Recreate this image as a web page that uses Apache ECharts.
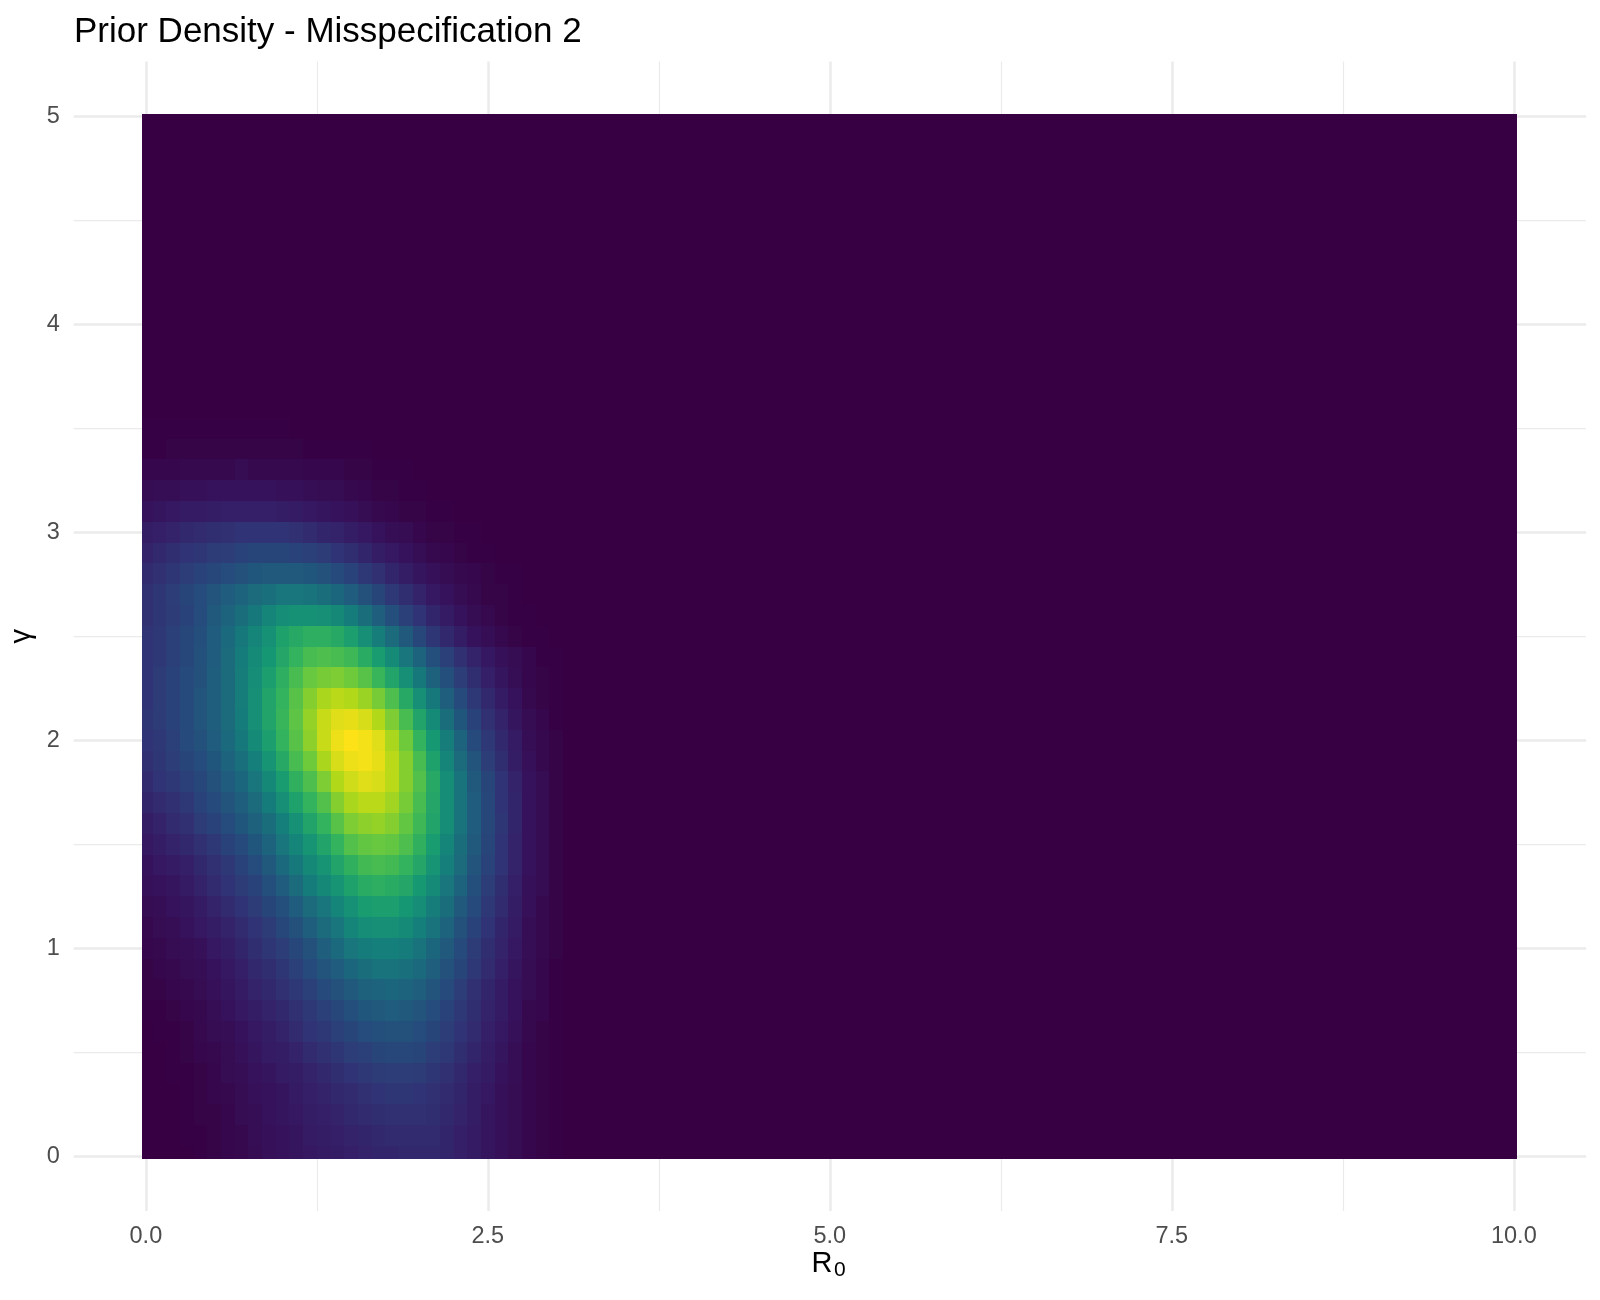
<!DOCTYPE html>
<html>
<head>
<meta charset="utf-8">
<script src="https://cdn.jsdelivr.net/npm/echarts@6.0.0/dist/echarts.min.js"></script>
<style>
  html, body { margin: 0; padding: 0; background: #ffffff; }
  #chart { width: 1600px; height: 1300px; }
</style>
</head>
<body>
<div id="chart"></div>
<script>
// ---------------- data ----------------
const chartTitle = 'Prior Density - Misspecification 2';
const xAxisTitleMain = 'R';
const xAxisTitleSub = '0';
const yAxisTitle = 'γ';
const xTickValues = [0, 2.5, 5, 7.5, 10];
const xMinorValues = [1.25, 3.75, 6.25, 8.75];
const yTickValues = [0, 1, 2, 3, 4, 5];
const yMinorValues = [0.5, 1.5, 2.5, 3.5, 4.5];

// R0 positions of the measured (non-zero) columns
const r0Columns = [0.0,0.1,0.2,0.3,0.4,0.5,0.6,0.7,0.8,0.9,1.0,1.1,1.2,1.3,1.4,1.5,1.6,1.7,1.8,1.9,2.0,2.1,2.2,2.3,2.4,2.5,2.6,2.7,2.8,2.9,3.0];
// gamma positions of the measured rows
const gammaRows = [0.0,0.1,0.2,0.3,0.4,0.5,0.6,0.7,0.8,0.9,1.0,1.1,1.2,1.3,1.4,1.5,1.6,1.7,1.8,1.9,2.0,2.1,2.2,2.3,2.4,2.5,2.6,2.7,2.8,2.9,3.0,3.1,3.2,3.3,3.4,3.5];

// relative prior density (max = 100), one array per gamma row
const dens_g00 = [0,0,0,0,1,2,3,4,5,7,8,9,10,11,12,13,14,15,15,16,16,16,15,13,11,9,7,5,3,2,1];
const dens_g01 = [0,0,0,1,1,2,3,4,6,7,8,9,11,12,13,14,15,16,17,17,17,17,15,13,11,9,7,5,3,2,1];
const dens_g02 = [0,0,0,1,2,2,3,5,6,8,9,10,12,13,14,16,17,18,19,19,19,18,16,14,12,9,7,5,3,2,1];
const dens_g03 = [0,0,0,1,2,3,4,5,7,8,9,11,13,14,16,17,19,20,21,21,20,19,17,15,12,10,7,5,3,2,1];
const dens_g04 = [0,0,1,1,2,3,5,6,8,9,11,12,14,16,18,20,22,23,24,24,23,21,19,16,13,11,8,6,3,2,1];
const dens_g05 = [0,0,1,2,3,4,5,7,9,11,12,14,17,19,21,24,25,27,28,28,27,24,22,18,15,12,9,6,3,2,1];
const dens_g06 = [0,1,1,2,4,5,6,8,10,12,14,17,20,22,25,27,30,31,32,32,30,27,24,20,17,13,10,7,4,2,1];
const dens_g07 = [1,1,2,3,4,6,8,10,12,14,16,19,22,25,28,31,34,35,36,35,33,30,26,22,18,14,11,8,4,3,1];
const dens_g08 = [2,2,3,4,5,7,9,11,14,16,19,22,25,29,32,35,38,39,40,39,37,33,29,24,19,15,11,8,5,3,1];
const dens_g09 = [2,3,4,5,6,8,10,13,16,18,21,25,29,33,36,40,43,45,45,44,41,37,32,27,22,17,13,9,5,3,1];
const dens_g10 = [3,4,5,6,7,10,12,15,18,21,24,28,32,37,41,46,48,50,50,48,45,40,35,29,23,18,14,10,6,4,2];
const dens_g11 = [4,5,6,8,10,12,14,17,20,23,28,32,37,42,46,52,55,56,56,54,50,45,39,32,26,20,15,11,6,4,2];
const dens_g12 = [5,6,8,9,11,14,17,20,23,27,31,36,42,46,52,57,61,62,62,59,55,49,43,35,29,22,17,12,7,4,2];
const dens_g13 = [7,8,9,11,14,17,20,23,26,31,36,42,48,53,58,63,67,68,67,65,60,54,46,39,31,24,18,13,7,5,2];
const dens_g14 = [8,10,11,13,16,19,22,26,30,35,41,47,53,58,64,69,73,74,73,70,65,58,50,42,33,26,20,14,8,5,2];
const dens_g15 = [10,12,14,16,19,22,26,29,34,39,46,52,58,64,70,76,79,80,79,75,69,61,52,43,35,27,20,14,8,5,2];
const dens_g16 = [12,14,17,19,23,26,30,34,38,43,50,57,64,70,77,83,85,86,84,79,72,64,55,45,36,28,21,15,8,5,2];
const dens_g17 = [15,17,19,22,26,29,33,37,42,48,56,63,70,76,84,89,91,91,88,82,74,65,55,45,36,28,20,15,8,5,2];
const dens_g18 = [17,20,22,25,28,32,36,40,46,53,61,69,75,83,90,94,96,95,91,84,76,66,55,45,35,27,20,14,8,5,2];
const dens_g19 = [19,21,24,27,30,34,39,44,50,58,66,74,81,89,95,98,99,97,91,84,74,63,52,42,33,24,18,12,7,4,2];
const dens_g20 = [20,22,25,29,32,36,41,47,54,62,70,77,85,93,98,100,99,96,89,81,70,60,49,39,29,22,16,11,6,4,2];
const dens_g21 = [21,23,26,29,33,37,42,48,56,64,71,78,86,93,96,97,95,90,83,74,64,54,43,34,26,19,14,9,5,3,1];
const dens_g22 = [20,23,26,29,33,37,42,49,56,64,70,77,84,89,91,90,87,82,75,66,56,47,37,29,22,16,11,8,4,2,1];
const dens_g23 = [20,23,26,29,32,37,42,49,55,62,68,74,80,82,83,81,77,71,64,56,47,38,31,24,18,13,9,6,3,2,1];
const dens_g24 = [20,22,25,28,32,36,42,48,54,59,65,70,74,75,74,72,67,61,54,46,39,31,25,19,14,10,7,5,3,1,1];
const dens_g25 = [20,22,25,28,31,36,41,47,52,57,63,66,68,68,66,62,56,49,42,35,28,21,16,12,8,6,4,2,1,1,0];
const dens_g26 = [19,21,23,26,30,35,39,43,47,52,55,57,57,56,53,48,43,37,31,25,20,15,11,8,5,4,2,1,1,0,0];
const dens_g27 = [19,21,24,27,30,33,36,39,42,44,46,46,45,43,40,36,32,27,22,18,14,10,8,5,4,2,2,1,0,0,0];
const dens_g28 = [17,19,21,24,26,28,30,32,34,35,35,35,34,32,29,26,22,19,15,12,9,7,5,4,3,2,1,1,0,0,0];
const dens_g29 = [14,16,18,20,21,23,24,26,27,27,27,26,25,23,20,18,15,12,10,8,6,4,3,2,1,1,0,0,0,0,0];
const dens_g30 = [12,13,14,16,17,18,19,20,20,20,20,19,17,15,14,12,10,8,6,5,3,2,2,1,1,0,0,0,0,0,0];
const dens_g31 = [8,9,10,11,11,12,13,13,13,13,12,11,10,9,8,7,5,4,3,2,2,1,1,0,0,0,0,0,0,0,0];
const dens_g32 = [5,6,6,7,7,8,8,8,8,8,7,7,6,5,5,4,3,2,2,1,1,0,0,0,0,0,0,0,0,0,0];
const dens_g33 = [3,3,3,4,4,4,4,5,4,4,4,4,3,3,3,2,2,1,1,1,0,0,0,0,0,0,0,0,0,0,0];
const dens_g34 = [1,1,2,2,2,2,2,2,2,2,2,2,1,1,1,1,1,0,0,0,0,0,0,0,0,0,0,0,0,0,0];
const dens_g35 = [1,1,1,1,1,1,1,1,1,1,1,0,0,0,0,0,0,0,0,0,0,0,0,0,0,0,0,0,0,0,0];

const densityRows = [dens_g00,dens_g01,dens_g02,dens_g03,dens_g04,dens_g05,dens_g06,dens_g07,dens_g08,dens_g09,
  dens_g10,dens_g11,dens_g12,dens_g13,dens_g14,dens_g15,dens_g16,dens_g17,dens_g18,dens_g19,
  dens_g20,dens_g21,dens_g22,dens_g23,dens_g24,dens_g25,dens_g26,dens_g27,dens_g28,dens_g29,
  dens_g30,dens_g31,dens_g32,dens_g33,dens_g34,dens_g35];

// ---------------- layout / style constants ----------------
const FONT = '"Liberation Sans", Arial, Helvetica, sans-serif';
const CELL = 0.1;                   // grid spacing of the density raster
const R0_LIMIT = [0, 10];
const GAMMA_LIMIT = [0, 5];
const TILE_X = [-0.025, 10.025];    // outer edge of the raster in the reference
const TILE_Y = [-0.0125, 5.0125];
const X_MIN = -0.5275, X_MAX = 10.5275;
const Y_MIN = -0.26375, Y_MAX = 5.26375;
const palette = ['#360042','#361762','#303375','#254C7C','#1C667D','#15807B','#169972','#33B35D','#68C83F','#B1D819','#FDE218'];

// full raster: measured cells, and zero density elsewhere (dark in the picture)
const cells = [];
const nx = Math.round((R0_LIMIT[1] - R0_LIMIT[0]) / CELL);
const ny = Math.round((GAMMA_LIMIT[1] - GAMMA_LIMIT[0]) / CELL);
for (let j = 0; j <= ny; j++) {
  for (let i = 0; i <= nx; i++) {
    let r, g, v = 0;
    if (j < gammaRows.length && i < r0Columns.length) {
      r = r0Columns[i]; g = gammaRows[j]; v = densityRows[j][i];
    } else {
      r = +(R0_LIMIT[0] + i * CELL).toFixed(2);
      g = +(GAMMA_LIMIT[0] + j * CELL).toFixed(2);
    }
    cells.push([r, g, v]);
  }
}

const chart = echarts.init(document.getElementById('chart'), null, { renderer: 'canvas' });

const gridLineMajor = { show: true, lineStyle: { color: '#EBEBEB', width: 2.5 } };
const gridLineMinor = { show: true, lineStyle: { color: '#EBEBEB', width: 1.25 } };

const option = {
  backgroundColor: '#ffffff',
  animation: false,
  title: [
    {
      text: chartTitle,
      left: 69,
      top: 10,
      textStyle: { fontSize: 35, fontWeight: 'normal', color: '#000000', fontFamily: FONT }
    },
    {
      // x axis title: R with subscript 0
      text: xAxisTitleMain,
      left: 811.5, top: 1249, padding: 0,
      textStyle: { fontSize: 29, fontWeight: 'normal', color: '#000000', fontFamily: FONT }
    },
    {
      text: xAxisTitleSub,
      left: 834, top: 1260, padding: 0,
      textStyle: { fontSize: 21, fontWeight: 'normal', color: '#000000', fontFamily: FONT }
    }
  ],
  grid: {
    left: 73.7, top: 61.4, width: 1512.3, height: 1149.7,
    containLabel: false, outerBoundsMode: 'none'
  },
  visualMap: {
    type: 'continuous', show: false, min: 0, max: 100, dimension: 2, seriesIndex: 0,
    inRange: { color: palette }
  },
  xAxis: [
    {
      type: 'value', min: X_MIN, max: X_MAX, position: 'bottom',
      axisLine: { show: false },
      axisTick: { show: false, customValues: xTickValues },
      axisLabel: {
        customValues: xTickValues, formatter: v => Number(v).toFixed(1),
        fontSize: 23.5, color: '#4D4D4D', fontFamily: FONT, margin: 13
      },
      splitLine: gridLineMajor
    },
    {
      type: 'value', min: X_MIN, max: X_MAX, position: 'top',
      axisLine: { show: false },
      axisTick: { show: false, customValues: xMinorValues },
      axisLabel: { show: false },
      splitLine: gridLineMinor
    }
  ],
  yAxis: [
    {
      type: 'value', min: Y_MIN, max: Y_MAX, position: 'left',
      axisLine: { show: false },
      axisTick: { show: false, customValues: yTickValues },
      axisLabel: {
        customValues: yTickValues, formatter: v => String(Math.round(v)),
        fontSize: 23.5, color: '#4D4D4D', fontFamily: FONT, margin: 14
      },
      splitLine: gridLineMajor,
      name: yAxisTitle, nameLocation: 'middle', nameRotate: 90, nameGap: 37, nameMoveOverlap: false,
      nameTextStyle: { fontSize: 29, color: '#000000', fontFamily: FONT }
    },
    {
      type: 'value', min: Y_MIN, max: Y_MAX, position: 'right',
      axisLine: { show: false },
      axisTick: { show: false, customValues: yMinorValues },
      axisLabel: { show: false },
      splitLine: gridLineMinor
    }
  ],
  series: [
    {
      type: 'custom',
      xAxisIndex: 0, yAxisIndex: 0,
      dimensions: ['R0', 'gamma', 'density'],
      encode: { x: 0, y: 1 },
      data: cells,
      silent: true,
      renderItem: function (params, api) {
        const r = api.value(0), g = api.value(1);
        const x0 = Math.max(r - CELL / 2, TILE_X[0]);
        const x1 = Math.min(r + CELL / 2, TILE_X[1]);
        const y0 = Math.max(g - CELL / 2, TILE_Y[0]);
        const y1 = Math.min(g + CELL / 2, TILE_Y[1]);
        const pTL = api.coord([x0, y1]);
        const pBR = api.coord([x1, y0]);
        const left = Math.round(pTL[0]), top = Math.round(pTL[1]);
        const right = Math.round(pBR[0]), bottom = Math.round(pBR[1]);
        return {
          type: 'rect',
          shape: { x: left, y: top, width: right - left, height: bottom - top },
          style: { fill: api.visual('color') }
        };
      }
    }
  ]
};

chart.setOption(option);
</script>
</body>
</html>
